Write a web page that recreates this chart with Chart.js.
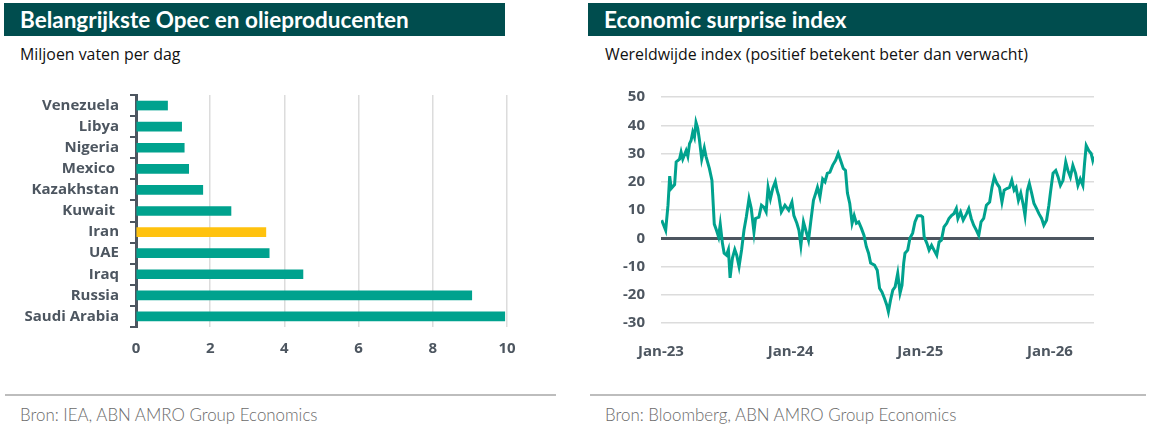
<!DOCTYPE html>
<html>
<head>
<meta charset="utf-8">
<script src="https://cdn.jsdelivr.net/npm/chart.js@4"></script>
<style>
  body { margin: 0; width: 1152px; height: 433px; background: #fff; position: relative; overflow: hidden; font-family: Lato, "Open Sans", sans-serif; }
  .title { position: absolute; top: 3px; height: 33px; background: #004d4e; color: #fff; font-weight: 700; font-size: 22.5px; line-height: 33px; padding-left: 16px; box-sizing: border-box; }
  .sub { position: absolute; top: 43px; font-family: "Open Sans", sans-serif; font-size: 15.9px; color: #111; }
  .rule { position: absolute; top: 394px; height: 2px; background: #bdbdbd; }
  .src { position: absolute; top: 404px; font-size: 16.9px; color: #6b6b6b; font-weight: 300; }
  .box { position: absolute; }
</style>
</head>
<body>
<div class="title" style="left:4px;width:501px">Belangrijkste Opec en olieproducenten</div>
<div class="title" style="left:588px;width:559px">Economic surprise index</div>
<div class="sub" style="left:20px">Miljoen vaten per dag</div>
<div class="sub" style="left:605px">Wereldwijde index (positief betekent beter dan verwacht)</div>

<div class="box" style="left:0;top:75px;width:540px;height:292px"><canvas id="oil"></canvas></div>
<div class="box" style="left:590px;top:72px;width:530px;height:291px"><canvas id="esi"></canvas></div>

<div class="rule" style="left:5px;width:551px"></div>
<div class="rule" style="left:590px;width:556px"></div>
<div class="src" style="left:20px">Bron: IEA, ABN AMRO Group Economics</div>
<div class="src" style="left:605px">Bron: Bloomberg, ABN AMRO Group Economics</div>

<script>
// oil producers, million barrels per day
const producers = ["Venezuela", "Libya", "Nigeria", "Mexico ", "Kazakhstan", "Kuwait ", "Iran", "UAE", "Iraq", "Russia", "Saudi Arabia"];
const production = [0.85, 1.23, 1.3, 1.42, 1.8, 2.56, 3.5, 3.59, 4.5, 9.05, 9.94];
const highlight = "Iran";
const oilTicks = [0, 2, 4, 6, 8, 10];

// economic surprise index, time as decimal year
const esiTime = [
  2023.005, 2023.036, 2023.054, 2023.067, 2023.079, 2023.105, 2023.117, 2023.143, 2023.155, 2023.168,
  2023.194, 2023.207, 2023.22, 2023.232, 2023.245, 2023.258, 2023.27, 2023.283, 2023.296, 2023.314,
  2023.334, 2023.347, 2023.373, 2023.393, 2023.411, 2023.428, 2023.444, 2023.457, 2023.474, 2023.487,
  2023.505, 2023.52, 2023.533, 2023.551, 2023.569, 2023.584, 2023.602, 2023.622, 2023.64, 2023.658,
  2023.679, 2023.696, 2023.717, 2023.729, 2023.755, 2023.775, 2023.793, 2023.811, 2023.826, 2023.844,
  2023.862, 2023.882, 2023.895, 2023.908, 2023.928, 2023.956, 2023.985, 2024.01, 2024.025, 2024.048,
  2024.064, 2024.079, 2024.099, 2024.117, 2024.138, 2024.155, 2024.176, 2024.194, 2024.207, 2024.226,
  2024.247, 2024.265, 2024.283, 2024.303, 2024.324, 2024.347, 2024.367, 2024.385, 2024.406, 2024.423,
  2024.438, 2024.456, 2024.474, 2024.49, 2024.507, 2024.525, 2024.546, 2024.566, 2024.584, 2024.601,
  2024.617, 2024.647, 2024.668, 2024.686, 2024.704, 2024.724, 2024.742, 2024.754, 2024.77, 2024.788,
  2024.806, 2024.826, 2024.844, 2024.859, 2024.872, 2024.882, 2024.903, 2024.92, 2024.941, 2024.959,
  2024.979, 2025.005, 2025.018, 2025.03, 2025.051, 2025.068, 2025.087, 2025.106, 2025.127, 2025.145,
  2025.163, 2025.183, 2025.204, 2025.221, 2025.24, 2025.259, 2025.278, 2025.29, 2025.311, 2025.331,
  2025.357, 2025.374, 2025.393, 2025.412, 2025.433, 2025.451, 2025.469, 2025.489, 2025.51, 2025.535,
  2025.553, 2025.571, 2025.591, 2025.611, 2025.63, 2025.647, 2025.668, 2025.688, 2025.706, 2025.724,
  2025.739, 2025.757, 2025.775, 2025.795, 2025.808, 2025.826, 2025.841, 2025.859, 2025.877, 2025.897,
  2025.915, 2025.936, 2025.953, 2025.974, 2025.992, 2026.005, 2026.024, 2026.045, 2026.063, 2026.081,
  2026.101, 2026.122, 2026.139, 2026.158, 2026.177, 2026.198, 2026.216, 2026.234, 2026.254, 2026.267,
  2026.28, 2026.3, 2026.318, 2026.33, 2026.338
];
const esiValue = [
  6.4, 2.8, 11.7, 22, 17.6, 19, 27, 28, 30.5, 28,
  31, 29, 33.5, 34.6, 37.6, 35.8, 41, 39, 35, 28,
  32, 29, 24.7, 20.5, 5, 2.8, 0.5, 5, -1.8, -5.3,
  -6, -4, -14, -7, -4, -6, -10, -4, 2.8, 7.5,
  14, 10.6, 2.2, 7, 7.5, 11.7, 11, 9.3, 18, 14,
  17.6, 20, 17, 15, 9.3, 11.7, 9.9, 12.8, 8, 5.3,
  2.8, -2.5, 5.8, 2.8, -0.7, 5.8, 13.4, 16, 18, 14.6,
  21, 20, 23, 23.4, 25.8, 27.6, 30, 27.6, 24.7, 24,
  16, 12.3, 5.3, 8, 5.3, 5.8, 3.5, 1, -3, -5.3,
  -8.8, -9.5, -11.3, -17.7, -19, -21.3, -23.7, -26, -22, -18.4,
  -17.2, -12.4, -19.4, -16.6, -8.8, -5.3, -4.2, 0, 1.8, 5.8,
  8, 8, 7.5, 0.5, -1.8, -4.2, -2.5, -4.2, -6, -1.3,
  -0.7, 4, 5.3, 7, 8, 8.7, 10.5, 7, 9.3, 6.4,
  8.7, 10.5, 7, 4.6, 2.8, 1, 5.8, 7, 11.7, 12.8,
  18, 21.7, 19.4, 18, 12.8, 17, 17.6, 18, 20.5, 17,
  18, 13.4, 16, 11.7, 8, 17, 19.4, 16, 12.3, 10.5,
  8.7, 7, 4.6, 6.4, 11.7, 16.5, 23, 24, 21.7, 18.7,
  20.5, 27, 24, 21.7, 25.8, 23, 18.7, 21, 18.7, 26.4,
  32.8, 31, 30, 27.6, 29
];
const esiTicks = [50, 40, 30, 20, 10, 0, -10, -20, -30];
const yearLabels = ["Jan-23", "Jan-24", "Jan-25", "Jan-26"];

const teal = "#00a28e";
const gold = "#ffc20e";
const axisDark = "#4d5660";
const gridLight = "#dcdcdc";
const tickFont = { family: "'Open Sans', sans-serif", size: 15, weight: "bold" };

new Chart(document.getElementById("oil"), {
    type: "bar",
    data: {
        labels: producers,
        datasets: [{
            data: production,
            backgroundColor: producers.map((p) => (p === highlight ? gold : teal)),
            barThickness: 9,
        }],
    },
    options: {
        indexAxis: "y",
        responsive: true,
        maintainAspectRatio: false,
        animation: false,
        layout: { padding: { top: 8, right: 33, left: 0, bottom: 0 } },
        plugins: { legend: { display: false }, tooltip: { enabled: false } },
        scales: {
            x: {
                min: 0,
                max: 10,
                afterBuildTicks: (scale) => { scale.ticks = oilTicks.map((v) => ({ value: v })); },
                afterFit: (scale) => { scale.height = 40; },
                grid: {
                    color: (ctx) => (ctx.tick && ctx.tick.value === 0 ? "rgba(0,0,0,0)" : gridLight),
                    lineWidth: 1.5,
                    drawTicks: false,
                },
                border: { display: false },
                ticks: { color: axisDark, font: tickFont, padding: 13 },
            },
            y: {
                afterFit: (scale) => { scale.width = 136; },
                grid: { drawOnChartArea: false, drawTicks: true, tickLength: 6, color: axisDark, lineWidth: 2 },
                border: { display: true, color: axisDark, width: 3 },
                ticks: { color: axisDark, font: tickFont, padding: 11, autoSkip: false },
            },
        },
    },
});

new Chart(document.getElementById("esi"), {
    type: "line",
    data: {
        datasets: [{
            data: esiTime.map((t, i) => ({ x: t, y: esiValue[i] })),
            borderColor: teal,
            borderWidth: 3,
            pointRadius: 0,
            tension: 0,
        }],
    },
    options: {
        responsive: true,
        maintainAspectRatio: false,
        animation: false,
        layout: { padding: { top: 12, right: 26, left: 0, bottom: 0 } },
        plugins: { legend: { display: false }, tooltip: { enabled: false } },
        scales: {
            x: {
                type: "linear",
                min: 2023,
                max: 2026.34,
                afterBuildTicks: (scale) => { scale.ticks = yearLabels.map((l, i) => ({ value: 2023 + i })); },
                afterFit: (scale) => { scale.height = 40; },
                grid: { display: false },
                border: { display: false },
                ticks: {
                    color: axisDark,
                    font: tickFont,
                    padding: 12,
                    maxRotation: 0,
                    callback: (v) => yearLabels[Math.round(v) - 2023],
                },
            },
            y: {
                min: -30,
                max: 50,
                afterBuildTicks: (scale) => { scale.ticks = esiTicks.map((v) => ({ value: v })); },
                afterFit: (scale) => { scale.width = 71; },
                grid: {
                    color: (ctx) => (ctx.tick && ctx.tick.value === 0 ? axisDark : gridLight),
                    lineWidth: (ctx) => (ctx.tick && ctx.tick.value === 0 ? 3 : 1.5),
                    drawTicks: false,
                },
                border: { display: false },
                ticks: { color: axisDark, font: tickFont, padding: 16 },
            },
        },
    },
});
</script>
</body>
</html>
